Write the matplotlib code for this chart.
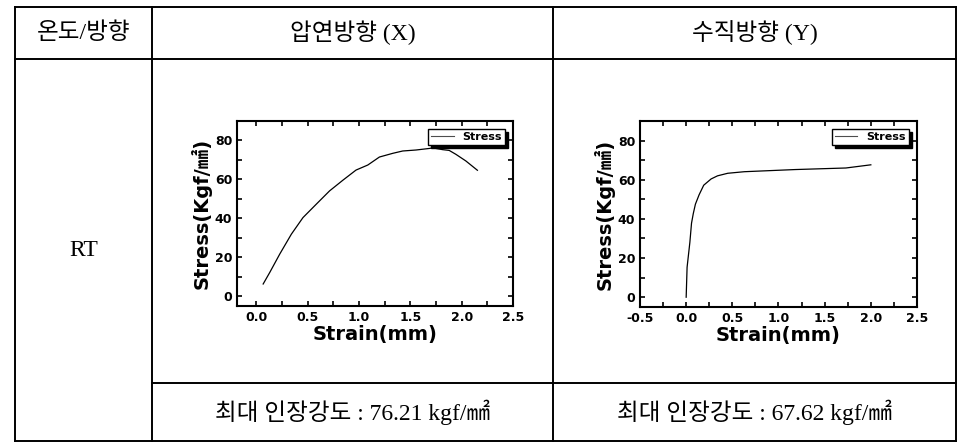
import matplotlib.pyplot as plt
from matplotlib.lines import Line2D

# rolling direction (X)
strain_x = [0.065, 0.13, 0.227, 0.34, 0.453, 0.583, 0.712, 0.842, 0.97, 1.085,
            1.198, 1.328, 1.425, 1.554, 1.684, 1.72, 1.749, 1.813, 1.878, 1.943,
            2.04, 2.153]
stress_x = [6.3, 12.3, 21.7, 31.9, 40.4, 47.3, 54.1, 59.6, 64.8, 67.4,
            71.5, 73.4, 74.6, 75.1, 75.9, 76.21, 75.9, 75.3, 74.9, 72.9,
            69.5, 64.7]

# vertical direction (Y)
strain_y = [0.0, 0.01, 0.04, 0.058, 0.077, 0.1, 0.14, 0.19, 0.27, 0.34,
            0.45, 0.63, 1.18, 1.73, 2.0]
stress_y = [0.0, 15.3, 28.0, 37.8, 42.7, 47.5, 52.3, 57.2, 60.4, 62.0,
            63.3, 64.1, 65.2, 66.0, 67.62]

headers = ["온도/방향", "압연방향 (X)", "수직방향 (Y)"]
row_label = "RT"
results = ["최대 인장강도 : 76.21 kgf/㎟", "최대 인장강도 : 67.62 kgf/㎟"]

plt.rcParams['axes.unicode_minus'] = False

W, H = 970, 446
CELL_FONT = ['Liberation Serif', 'Noto Sans CJK KR']
LABEL_FONT = ['DejaVu Sans', 'Noto Sans CJK KR']

fig = plt.figure(figsize=(W / 100, H / 100), dpi=100)

# table grid in pixel coordinates
bg = fig.add_axes([0, 0, 1, 1])
bg.set_xlim(0, W)
bg.set_ylim(H, 0)
bg.axis('off')
cols = [15, 152, 553, 956]
rows = [7, 59, 383, 441]
lw = 1.4
for y in (rows[0], rows[1], rows[3]):
    bg.add_line(Line2D([cols[0], cols[3]], [y, y], color='black', lw=lw))
bg.add_line(Line2D([cols[1], cols[3]], [rows[2], rows[2]], color='black', lw=lw))
for x in cols:
    bg.add_line(Line2D([x, x], [rows[0], rows[3]], color='black', lw=lw))

for i, h in enumerate(headers):
    bg.text((cols[i] + cols[i + 1]) / 2, 33, h, ha='center', va='center',
            fontsize=17, family=CELL_FONT)
bg.text((cols[0] + cols[1]) / 2, 250, row_label, ha='center', va='center',
        fontsize=17, family=CELL_FONT)
for i, r in enumerate(results):
    bg.text((cols[i + 1] + cols[i + 2]) / 2, 412, r, ha='center', va='center',
            fontsize=17, family=CELL_FONT)


def stress_plot(rect, x, y, xlim, ylim, xticks, yticks):
    ax = fig.add_axes(rect)
    ax.plot(x, y, color='black', lw=0.9, label='Stress')
    ax.set_xlim(*xlim)
    ax.set_ylim(*ylim)
    ax.set_xticks(xticks)
    ax.set_yticks(yticks)
    ax.set_xticks([t + 0.25 for t in xticks[:-1]], minor=True)
    ax.set_yticks([t + 10 for t in yticks], minor=True)
    ax.tick_params(which='both', direction='in', top=True, right=True,
                   length=3.5, width=1.2, labelsize=9)
    for lab in ax.get_xticklabels() + ax.get_yticklabels():
        lab.set_fontweight('bold')
    for s in ax.spines.values():
        s.set_linewidth(1.5)
    ax.set_xlabel('Strain(mm)', fontsize=14, fontweight='bold',
                  family=LABEL_FONT, labelpad=1)
    ax.set_ylabel('Stress(Kgf/㎟)', fontsize=14, fontweight='bold',
                  family=LABEL_FONT, labelpad=2)
    leg = ax.legend(loc='upper right', fancybox=False, edgecolor='black',
                    framealpha=1, shadow={'color': 'black', 'alpha': 1},
                    prop={'weight': 'bold', 'size': 8}, handlelength=2.0,
                    borderpad=0.3, borderaxespad=0.7)
    leg.get_lines()[0].set_color('0.3')
    leg.get_lines()[0].set_linewidth(0.8)
    return ax


stress_plot([237 / W, 1 - 306 / H, 276 / W, 185 / H], strain_x, stress_x,
            (-0.19, 2.5), (-5, 90), [0.0, 0.5, 1.0, 1.5, 2.0, 2.5],
            [0, 20, 40, 60, 80])
stress_plot([640 / W, 1 - 307 / H, 277 / W, 186 / H], strain_y, stress_y,
            (-0.5, 2.5), (-5, 85), [-0.5, 0.0, 0.5, 1.0, 1.5, 2.0, 2.5],
            [0, 20, 40, 60, 80])

fig.savefig('out.png', dpi=100)
